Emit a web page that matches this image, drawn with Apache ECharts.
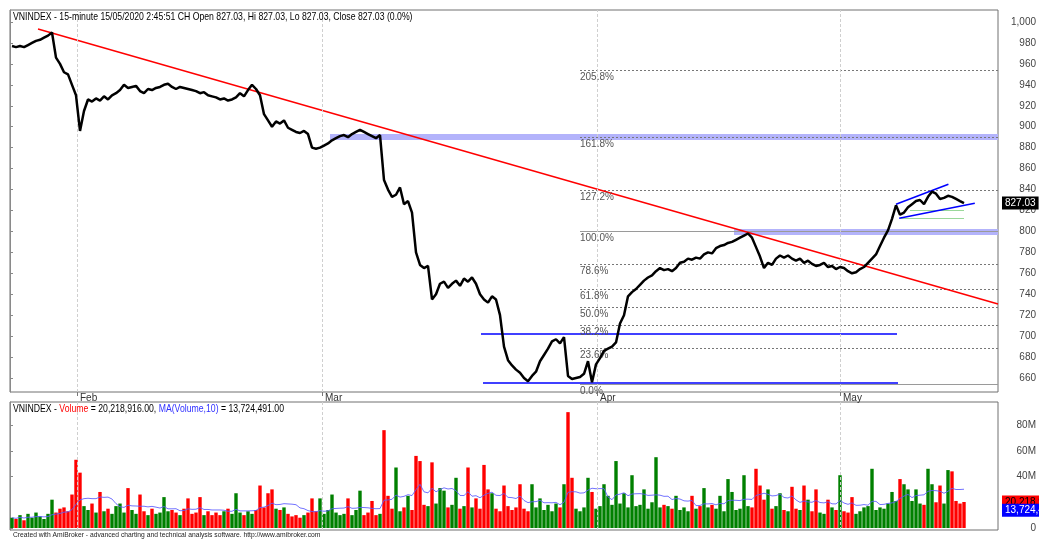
<!DOCTYPE html>
<html>
<head>
<meta charset="utf-8">
<script src="https://cdn.jsdelivr.net/npm/echarts@6/dist/echarts.min.js"></script>
<style>
html, body { margin: 0; padding: 0; background: #fff; }
#chart { width: 1039px; height: 539px; }
</style>
</head>
<body>
<div id="chart"></div>
<script>
// VNINDEX 15-minute closes, one sample per slot (about 4 px of the original chart)
const closes = [
  977, 976, 977, 976, 978, 980, 982, 983, 985, 987,
  990, 966, 960, 952, 950, 940, 930, 896, 915, 926,
  924, 927, 925, 929, 926, 930, 932, 935, 940, 937,
  938, 939, 934, 932, 936, 935, 937, 938, 940, 941,
  938, 936, 938, 937, 936, 935, 934, 932, 933, 930,
  929, 928, 926, 927, 925, 926, 928, 932, 929, 935,
  940, 936, 930, 912, 906, 900, 905, 903, 906, 899,
  897, 895, 894, 896, 893, 880, 879, 880, 882, 884,
  887, 889, 891, 892, 890, 893, 895, 897, 895, 893,
  891, 889, 892, 849, 840, 833, 835, 842, 826, 829,
  818, 780, 768, 765, 767, 735, 740, 750, 752, 746,
  750, 753, 748, 755, 752, 756, 750, 740, 735, 732,
  738, 735, 720, 690, 677, 672, 668, 665, 660, 657,
  662, 666, 676, 682, 688, 695, 697, 693, 699, 662,
  659, 660, 661, 664, 676, 656, 673, 679, 686, 688,
  690, 694, 712, 720, 738, 742, 745, 749, 753, 756,
  758, 762, 765, 763, 764, 762, 765, 770, 771, 774,
  773, 775, 774, 778, 780, 779, 784, 786, 787, 789,
  790, 792, 794, 796, 798, 794, 785, 776, 765, 770,
  768, 774, 777, 775, 777, 774, 772, 774, 770, 772,
  769, 767, 768, 770, 766, 767, 764, 766, 765, 762,
  760, 761, 764, 766, 770, 774, 778, 786, 794, 801,
  812, 825, 816, 818, 823, 826, 829, 830, 826, 833,
  838, 836, 831, 832, 834, 833, 831, 829, 827.03
];

// volume in millions, same slots
const volumes = [
  8, 7, 10, 6, 11, 8, 12, 9, 7, 11,
  22, 12, 15, 16, 13, 26, 53, 43, 17, 14,
  19, 12, 28, 13, 15, 11, 17, 19, 12, 31,
  14, 11, 26, 13, 10, 15, 11, 12, 24, 13,
  14, 12, 10, 15, 23, 11, 12, 24, 10, 13,
  10, 12, 10, 13, 15, 11, 27, 12, 10, 13,
  11, 14, 33, 16, 27, 30, 15, 14, 16, 11,
  9, 10, 8, 10, 12, 23, 13, 23, 11, 14,
  26, 12, 10, 11, 23, 10, 14, 29, 10, 12,
  21, 10, 11, 76, 25, 15, 47, 13, 16, 25,
  14, 56, 52, 18, 17, 51, 19, 31, 29, 16,
  18, 39, 15, 17, 47, 16, 23, 15, 49, 30,
  27, 15, 13, 33, 17, 14, 16, 34, 15, 13,
  34, 16, 23, 14, 18, 13, 19, 16, 34, 90,
  39, 15, 13, 16, 39, 28, 15, 17, 34, 25,
  18, 52, 19, 27, 16, 41, 17, 18, 30, 15,
  20, 55, 16, 18, 17, 15, 25, 14, 16, 13,
  25, 15, 17, 31, 16, 18, 15, 25, 13, 38,
  28, 14, 15, 41, 17, 16, 46, 33, 22, 30,
  15, 17, 27, 14, 13, 32, 15, 14, 33, 22,
  13, 30, 12, 11, 22, 16, 14, 41, 13, 12,
  24, 11, 13, 16, 17, 46, 14, 16, 15, 19,
  28, 21, 38, 34, 30, 21, 30, 19, 18, 46,
  34, 20, 33, 19, 45, 44, 21, 19, 20.218916
];

const slotCount = 247;
const monthTicks = [16.75, 78, 146.75, 207.5];
const monthNames = ['Feb', 'Mar', 'Apr', 'May'];
const priceTicks = [660, 680, 700, 720, 740, 760, 780, 800, 820, 840, 860, 880, 900, 920, 940, 960, 980, 1000];
const volumeTicks = [0, 40, 60, 80];

const fibLevels = [0, 23.6, 38.2, 50, 61.8, 78.6, 100, 127.2, 161.8, 205.8];
const fibLow = 654.3, fibHigh = 800;
const fibStart = 142.5;

// drawn studies: [[slot, price], [slot, price]]
const redTrend = [[7, 993.3], [247, 730.7]];
const blueLines = [
  [[117.75, 702], [221.75, 702]],
  [[118.25, 655], [222, 655]],
  [[221.5, 825.9], [234.6, 845]],
  [[222.3, 812.5], [241.2, 826.9]]
];
const blueBands = [
  [[80, 890], [247, 890]],
  [[181, 800], [247, 800]]
];
const greenLines = [
  [[225, 820.5], [238.5, 820.5]],
  [[222.5, 812.8], [238.5, 812.8]]
];

const lastClose = 827.03;
const lastVolume = 20.218916;
const lastMA = 13.724491;

const chart = echarts.init(document.getElementById('chart'));
const FONT = '"Liberation Sans", Arial, sans-serif';
const HIDDEN = { color: 'rgba(0,0,0,0)', width: 0 };

const ma10 = volumes.map((v, i) => {
  const from = Math.max(0, i - 9);
  const part = volumes.slice(from, i + 1);
  return +(part.reduce((a, b) => a + b, 0) / part.length).toFixed(3);
});

function seg(pair, style) {
  return [
    { coord: pair[0], lineStyle: style, label: { show: false } },
    { coord: pair[1] }
  ];
}

function sideTag(value, text, bg, fg) {
  return {
    yAxis: value,
    lineStyle: HIDDEN,
    label: {
      show: true, position: 'end', distance: 4, formatter: text,
      backgroundColor: bg, color: fg, padding: [2, 3, 1, 3], fontSize: 10, fontFamily: FONT
    }
  };
}

const fibData = fibLevels.map(p => {
  const v = fibLow + (fibHigh - fibLow) * p / 100;
  const solid = p === 0 || p === 100;
  return [
    {
      coord: [fibStart, v],
      lineStyle: { color: solid ? '#9a9a9a' : '#777', width: 1, type: solid ? 'solid' : [2, 2] },
      label: {
        show: true, position: 'insideStartBottom', distance: [0, 2],
        formatter: p.toFixed(1) + '%', color: '#555', fontSize: 10, fontFamily: FONT
      }
    },
    { coord: [slotCount, v] }
  ];
});

const monthLines = monthTicks.map(m => ({
  xAxis: m,
  lineStyle: { color: '#cfcfcf', type: [3, 2], width: 1 },
  label: { show: false }
}));

const priceMarks = []
  .concat(blueBands.map(b => seg(b, { color: '#b3b3fb', width: 6, type: 'solid' })))
  .concat(fibData)
  .concat(greenLines.map(g => seg(g, { color: '#9ad89a', width: 1, type: 'solid' })))
  .concat([seg(redTrend, { color: '#ff0000', width: 1.5, type: 'solid' })])
  .concat(blueLines.map(b => seg(b, { color: '#0000ff', width: 1.5, type: 'solid' })))
  .concat(monthLines)
  .concat([sideTag(lastClose, lastClose.toFixed(2), '#000', '#fff')]);

const option = {
  animation: false,
  backgroundColor: '#fff',
  grid: [
    { left: 10, right: 41, top: 10, height: 382, show: true, borderColor: '#707070', borderWidth: 1 },
    { left: 10, right: 41, top: 402, height: 128, show: true, borderColor: '#707070', borderWidth: 1 }
  ],
  xAxis: [
    {
      type: 'value', gridIndex: 0, min: 0, max: slotCount,
      axisLine: { show: false },
      splitLine: { show: false },
      axisTick: { show: true, customValues: monthTicks, length: 4, lineStyle: { color: '#777' } },
      axisLabel: {
        customValues: monthTicks, margin: 1, align: 'left', padding: [0, 0, 0, 3],
        color: '#333', fontSize: 10, fontFamily: FONT,
        formatter: v => { const k = monthTicks.indexOf(v); return k >= 0 ? monthNames[k] : ''; }
      }
    },
    {
      type: 'value', gridIndex: 1, min: 0, max: slotCount,
      axisLine: { show: false }, splitLine: { show: false },
      axisTick: { show: false }, axisLabel: { show: false }
    }
  ],
  yAxis: [
    {
      type: 'value', gridIndex: 0, position: 'right', min: 646.63, max: 1011.46, scale: true,
      axisLine: { show: true, lineStyle: { color: '#8a8a8a' } },
      splitLine: { show: false },
      axisTick: { show: true, customValues: priceTicks, length: 3, lineStyle: { color: '#888' } },
      axisLabel: {
        customValues: priceTicks, align: 'right', margin: 38, color: '#444', fontSize: 10, fontFamily: FONT,
        formatter: v => v.toLocaleString('en-US')
      }
    },
    {
      type: 'value', gridIndex: 1, position: 'right', min: -1.55, max: 97.87,
      axisLine: { show: true, lineStyle: { color: '#8a8a8a' } },
      splitLine: { show: false },
      axisTick: { show: true, customValues: volumeTicks, length: 3, lineStyle: { color: '#888' } },
      axisLabel: {
        customValues: volumeTicks, align: 'right', margin: 38, color: '#444', fontSize: 10, fontFamily: FONT,
        formatter: v => v === 0 ? '0' : v + 'M'
      }
    }
  ],
  series: [
    {
      type: 'bar', xAxisIndex: 1, yAxisIndex: 1, barWidth: 3.4,
      data: volumes.map((v, i) => ({
        value: [i + 0.5, v],
        itemStyle: { color: i > 0 && closes[i] < closes[i - 1] ? '#ff0000' : '#008000' }
      })),
      markLine: {
        silent: true, symbol: 'none',
        data: monthLines.concat([
          sideTag(lastVolume, '20,218,916.00', '#ff0000', '#000'),
          sideTag(lastMA, '13,724,491.00', '#0000ff', '#fff')
        ])
      }
    },
    {
      type: 'line', xAxisIndex: 1, yAxisIndex: 1, symbol: 'none',
      data: ma10.map((v, i) => [i + 0.5, v]),
      lineStyle: { color: '#5a5aff', width: 1, opacity: 0.85 }
    },
    {
      type: 'line', xAxisIndex: 0, yAxisIndex: 0, symbol: 'none', z: 5,
      data: closes.map((v, i) => [i + 0.5, v]),
      lineStyle: { color: '#000', width: 2.5 },
      markLine: { silent: true, symbol: 'none', z: 3, data: priceMarks }
    }
  ],
  graphic: [
    {
      type: 'text', left: 13, top: 11, z: 10, scaleX: 0.79,
      style: {
        text: 'VNINDEX - 15-minute 15/05/2020 2:45:51 CH Open 827.03, Hi 827.03, Lo 827.03, Close 827.03 (0.0%)',
        font: '11px ' + FONT, fill: '#000'
      }
    },
    {
      type: 'text', left: 13, top: 403, z: 10, scaleX: 0.79,
      style: {
        text: '{a|VNINDEX - }{r|Volume}{a| = 20,218,916.00, }{b|MA(Volume,10)}{a| = 13,724,491.00}',
        font: '11px ' + FONT,
        rich: {
          a: { fill: '#000', font: '11px ' + FONT },
          r: { fill: '#ff0000', font: '11px ' + FONT },
          b: { fill: '#3030ff', font: '11px ' + FONT }
        }
      }
    },
    {
      type: 'text', left: 13, top: 531, z: 10, scaleX: 0.84,
      style: {
        text: 'Created with AmiBroker - advanced charting and technical analysis software. http://www.amibroker.com',
        font: '8px ' + FONT, fill: '#222'
      }
    }
  ]
};

chart.setOption(option);
</script>
</body>
</html>
